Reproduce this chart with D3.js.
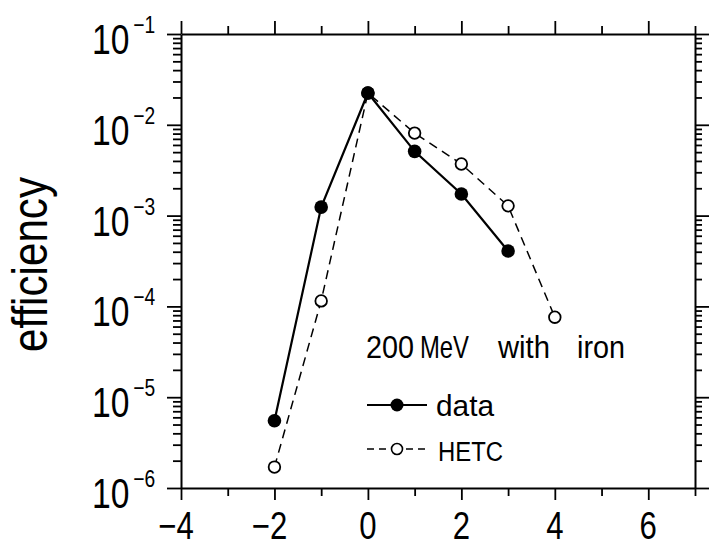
<!DOCTYPE html>
<html>
<head>
<meta charset="utf-8">
<script src="https://cdn.jsdelivr.net/npm/d3@7"></script>
<style>
  html, body { margin: 0; padding: 0; background: #fff; }
  svg { display: block; }
  text { font-family: "Liberation Sans", "DejaVu Sans", sans-serif; fill: #000; }
</style>
</head>
<body>
<script>
// Measured detection efficiency versus position, 200 MeV with iron
const dataPos = [-2, -1, 0, 1, 2, 3];
const dataEff = [5.5e-6, 1.24e-3, 0.0224, 5.1e-3, 1.73e-3, 4.07e-4];

// HETC simulation
const hetcPos = [-2, -1, 0, 1, 2, 3, 4];
const hetcEff = [1.7e-6, 1.15e-4, 0.0224, 8.1e-3, 3.7e-3, 1.28e-3, 7.6e-5];

// Axis ticks and labels
const xMajor = [-4, -2, 0, 2, 4, 6];
const xMinor = [-3, -1, 1, 3, 5, 7];
const xTickLabels = ["\u22124", "\u22122", "0", "2", "4", "6"];
const decades = [1e-6, 1e-5, 1e-4, 1e-3, 1e-2, 1e-1];
const exponents = ["\u22126", "\u22125", "\u22124", "\u22123", "\u22122", "\u22121"];

const W = 711, H = 547;
const plotLeft = 181, plotRight = 695, plotTop = 34, plotBottom = 488;

const x = d3.scaleLinear().domain([-4, 7]).range([plotLeft, plotRight]);
const y = d3.scaleLog().domain([1e-6, 1e-1]).range([plotBottom, plotTop]);

const svg = d3.select("body").append("svg").attr("width", W).attr("height", H);

function styleAxis(g, keepDomain) {
  g.selectAll("line").attr("stroke", "#000").attr("stroke-width", 1.8);
  g.select(".domain").attr("stroke", "#000").attr("stroke-width", 2);
  if (!keepDomain) g.select(".domain").remove();
  g.selectAll("text").remove();
}

const yMinor = y.ticks().filter(v => !decades.some(d => Math.abs(d - v) / d < 1e-9));

// frame: bottom
svg.append("g").attr("transform", `translate(0,${plotBottom})`)
  .call(d3.axisBottom(x).tickValues(xMajor).tickSize(12).tickSizeOuter(0).tickFormat(""))
  .call(g => styleAxis(g, true));
svg.append("g").attr("transform", `translate(0,${plotBottom})`)
  .call(d3.axisBottom(x).tickValues(xMinor).tickSize(8).tickSizeOuter(0).tickFormat(""))
  .call(g => styleAxis(g, false));
// frame: top
svg.append("g").attr("transform", `translate(0,${plotTop})`)
  .call(d3.axisTop(x).tickValues(xMajor).tickSize(13).tickSizeOuter(0).tickFormat(""))
  .call(g => styleAxis(g, true));
svg.append("g").attr("transform", `translate(0,${plotTop})`)
  .call(d3.axisTop(x).tickValues(xMinor).tickSize(8).tickSizeOuter(0).tickFormat(""))
  .call(g => styleAxis(g, false));
// frame: left
svg.append("g").attr("transform", `translate(${plotLeft},0)`)
  .call(d3.axisLeft(y).tickValues(decades).tickSize(14).tickSizeOuter(0).tickFormat(""))
  .call(g => styleAxis(g, true));
svg.append("g").attr("transform", `translate(${plotLeft},0)`)
  .call(d3.axisLeft(y).tickValues(yMinor).tickSize(8).tickSizeOuter(0).tickFormat(""))
  .call(g => styleAxis(g, false));
// frame: right
svg.append("g").attr("transform", `translate(${plotRight},0)`)
  .call(d3.axisRight(y).tickValues(decades).tickSize(14).tickSizeOuter(0).tickFormat(""))
  .call(g => styleAxis(g, true));
svg.append("g").attr("transform", `translate(${plotRight},0)`)
  .call(d3.axisRight(y).tickValues(yMinor).tickSize(7).tickSizeOuter(0).tickFormat(""))
  .call(g => styleAxis(g, false));

// x tick labels (condensed lettering)
svg.append("g").selectAll("text").data(xMajor).join("text")
  .attr("transform", d => `translate(${x(d) + (d < 0 ? -5 : 0)},539) scale(0.82,1)`)
  .attr("text-anchor", "middle")
  .attr("font-size", 38)
  .text((d, i) => xTickLabels[i]);

// y tick labels: 10 with superscript exponent, condensed horizontally
const yl = svg.append("g").selectAll("text").data(decades).join("text")
  .attr("transform", d => `translate(92,${y(d) + 20}) scale(0.8,1)`);
yl.append("tspan").attr("font-size", 42).text("10");
yl.append("tspan").attr("font-size", 24).attr("dx", 5).attr("dy", -21)
  .text((d, i) => exponents[i]);

// y axis title
svg.append("text")
  .attr("transform", "translate(47,352) rotate(-90)")
  .attr("font-size", 50)
  .attr("textLength", 175).attr("lengthAdjust", "spacingAndGlyphs")
  .text("efficiency");

// series
const line = d3.line().x(d => x(d[0])).y(d => y(d[1]));
const hetcPts = hetcPos.map((p, i) => [p, hetcEff[i]]);
const dataPts = dataPos.map((p, i) => [p, dataEff[i]]);

svg.append("path").datum(hetcPts).attr("d", line)
  .attr("fill", "none").attr("stroke", "#000").attr("stroke-width", 1.5)
  .attr("stroke-dasharray", "9,6");
svg.append("g").selectAll("circle").data(hetcPts).join("circle")
  .attr("cx", d => x(d[0])).attr("cy", d => y(d[1])).attr("r", 5.8)
  .attr("fill", "#fff").attr("stroke", "#000").attr("stroke-width", 1.8);

svg.append("path").datum(dataPts).attr("d", line)
  .attr("fill", "none").attr("stroke", "#000").attr("stroke-width", 2.2);
svg.append("g").selectAll("circle").data(dataPts).join("circle")
  .attr("cx", d => x(d[0])).attr("cy", d => y(d[1])).attr("r", 6.8)
  .attr("fill", "#000");

// legend
const lg = svg.append("g");
const titleWords = [["200", 366, 48], ["MeV", 420, 49], ["with", 498, 52], ["iron", 577, 48]];
lg.selectAll("text.title").data(titleWords).join("text")
  .attr("class", "title")
  .attr("x", d => d[1]).attr("y", 358)
  .attr("font-size", 32)
  .attr("textLength", d => d[2]).attr("lengthAdjust", "spacingAndGlyphs")
  .text(d => d[0]);

lg.append("line").attr("x1", 367).attr("x2", 427).attr("y1", 405).attr("y2", 405)
  .attr("stroke", "#000").attr("stroke-width", 2);
lg.append("circle").attr("cx", 397).attr("cy", 405).attr("r", 6.5).attr("fill", "#000");
lg.append("text").attr("x", 436).attr("y", 416)
  .attr("font-size", 29).attr("textLength", 58).attr("lengthAdjust", "spacingAndGlyphs")
  .text("data");

lg.append("line").attr("x1", 367).attr("x2", 389).attr("y1", 449).attr("y2", 449)
  .attr("stroke", "#000").attr("stroke-width", 1.5).attr("stroke-dasharray", "7,5");
lg.append("line").attr("x1", 406).attr("x2", 428).attr("y1", 449).attr("y2", 449)
  .attr("stroke", "#000").attr("stroke-width", 1.5).attr("stroke-dasharray", "7,5");
lg.append("circle").attr("cx", 397).attr("cy", 449).attr("r", 5.5)
  .attr("fill", "#fff").attr("stroke", "#000").attr("stroke-width", 1.6);
lg.append("text").attr("x", 438).attr("y", 461)
  .attr("font-size", 27).attr("textLength", 65).attr("lengthAdjust", "spacingAndGlyphs")
  .text("HETC");
</script>
</body>
</html>
